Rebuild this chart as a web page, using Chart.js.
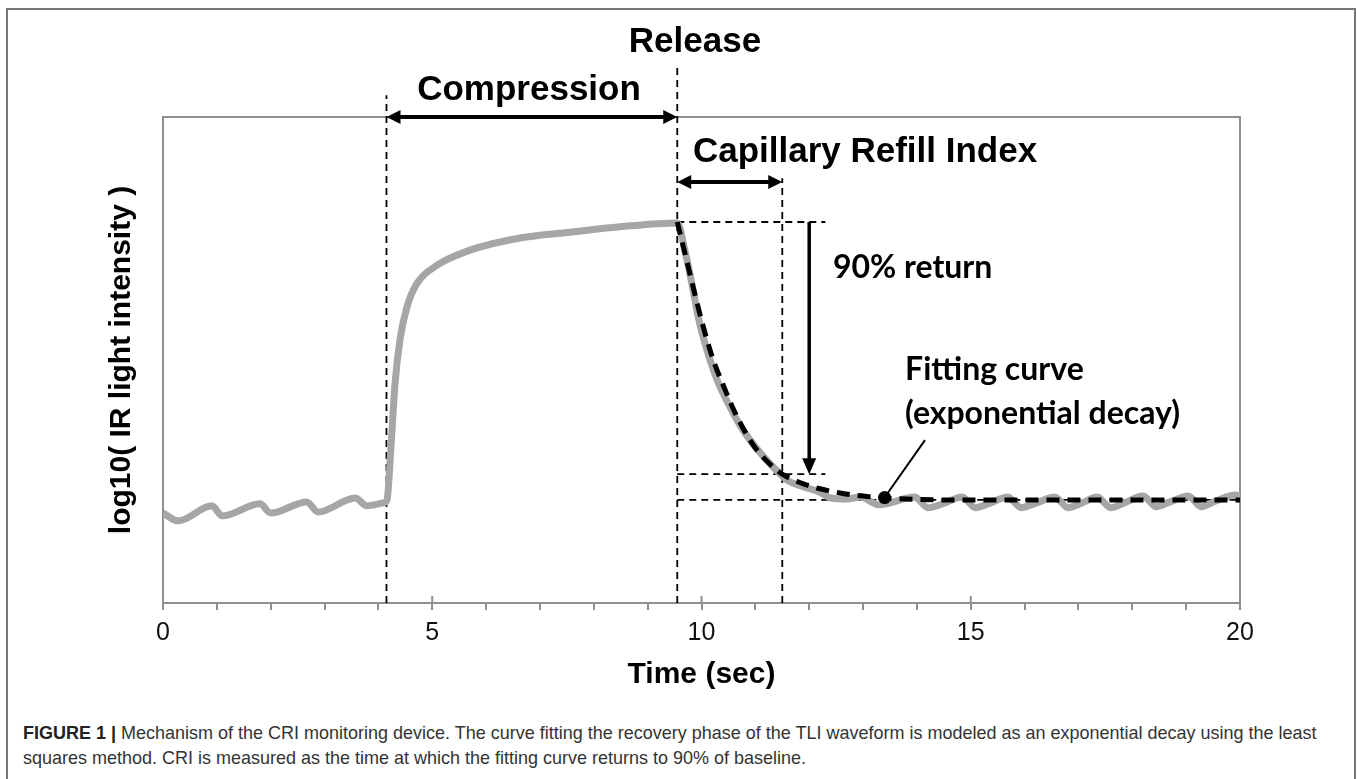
<!DOCTYPE html>
<html>
<head>
<meta charset="utf-8">
<script src="https://cdn.jsdelivr.net/npm/chart.js@4.4.1/dist/chart.umd.min.js"></script>
<style>
  html, body { margin: 0; padding: 0; background: #fff; }
  body { width: 1357px; height: 779px; position: relative; overflow: hidden; font-family: "Liberation Sans", Arial, sans-serif; }
  #frame { position: absolute; left: 6px; top: 8px; width: 1346px; height: 820px; border: 2px solid #777; border-bottom: none; }
  #criChart { position: absolute; left: 0; top: 0; }
  #caption { position: absolute; left: 23px; top: 720px; font-size: 19px; line-height: 25px; color: #333; white-space: nowrap; transform-origin: 0 0; }
  #caption b { color: #222; }
</style>
</head>
<body>
<div id="frame"></div>
<canvas id="criChart" width="1357" height="700"></canvas>
<div id="caption"><span id="capLine1"><b>FIGURE 1 |</b> Mechanism of the CRI monitoring device. The curve fitting the recovery phase of the TLI waveform is modeled as an exponential decay using the least</span><br>squares method. CRI is measured as the time at which the fitting curve returns to 90% of baseline.</div>
<script>
// TLI waveform (grey trace), time in sec
const tliTime = [0, 0.28, 0.91, 1.1, 1.8, 2.0, 2.67, 2.88, 3.57, 3.79,
  4.09, 4.16, 4.23, 4.31, 4.40, 4.53, 4.72, 5.09, 5.70, 6.63,
  7.56, 8.49, 9.55, 9.69, 9.82, 9.94, 10.1, 10.29, 10.53, 10.77,
  11.09, 11.33, 11.59, 11.9, 12.2, 12.4, 12.7, 12.95, 13.3,
  13.96, 14.06, 14.2, 14.5,
  14.84, 14.94, 15.08, 15.35,
  15.69, 15.79, 15.93, 16.2,
  16.56, 16.66, 16.8, 17.05,
  17.35, 17.45, 17.59, 17.85,
  18.2, 18.3, 18.44, 18.7,
  19.04, 19.14, 19.28, 19.55,
  19.92, 20.0];
const tliValue = [1.85, 1.69, 2.00, 1.79, 2.04, 1.85, 2.08, 1.87, 2.16, 2.00,
  2.06, 2.12, 3.15, 4.53, 5.41, 6.09, 6.58, 6.95, 7.26, 7.51,
  7.63, 7.74, 7.82, 7.26, 6.58, 5.88, 5.21, 4.59, 4.03, 3.56,
  3.09, 2.80, 2.53, 2.39, 2.28, 2.16, 2.14, 2.18, 2.02,
  2.18, 2.10, 1.96, 2.05,
  2.18, 2.10, 1.96, 2.05,
  2.18, 2.10, 1.96, 2.05,
  2.18, 2.10, 1.96, 2.05,
  2.18, 2.10, 1.96, 2.06,
  2.20, 2.12, 1.98, 2.08,
  2.20, 2.12, 1.98, 2.10,
  2.22, 2.18];

// exponential decay fit (black dashed)
const fitTime = [9.55, 9.7, 9.85, 10.0, 10.2, 10.4, 10.6, 10.8, 11.0, 11.25, 11.5, 11.8, 12.2, 12.6, 13.0, 13.4, 14.0, 15.0, 20.0];
const fitValue = [7.84, 7.16, 6.48, 5.82, 5.06, 4.49, 3.97, 3.54, 3.19, 2.88, 2.65, 2.49, 2.35, 2.26, 2.20, 2.16, 2.13, 2.12, 2.12];

// event markers: compression start, release, CRI end
const markTime = [4.15, 9.55, 11.5];
const markTop = [10.45, 11.07, 8.74];
// levels: release level, 90% return, baseline
const levelValue = [7.84, 2.65, 2.12];
const levelEnd = [12.3, 12.3, 20];

const compressionSpan = [4.15, 9.55];
const compressionAt = 10;
const criSpan = [9.55, 11.5];
const criAt = 8.66;
const returnTime = 12.0;
const returnSpan = [7.84, 2.65];

const fitPoint = [13.4, 2.17];
const leaderStart = [14.15, 3.35];

const xTicks = [0, 5, 10, 15, 20];

const pts = (xs, ys) => xs.map((x, i) => ({x: x, y: ys[i]}));

const thinDash = {
  borderColor: '#000', borderWidth: 1.8, borderDash: [7, 5],
  pointRadius: 0, clip: false, order: 3, tension: 0
};

let datasets = [
  {
    label: 'fit', data: pts(fitTime, fitValue),
    borderColor: '#000', borderWidth: 5, borderDash: [13, 8],
    pointRadius: 0, cubicInterpolationMode: 'monotone', order: 1
  },
  {
    label: 'TLI', data: pts(tliTime, tliValue),
    borderColor: '#a6a6a6', borderWidth: 7,
    pointRadius: 0, cubicInterpolationMode: 'monotone', order: 2
  },
  {
    label: 'leader', data: [{x: leaderStart[0], y: leaderStart[1]}, {x: fitPoint[0], y: fitPoint[1]}],
    borderColor: '#000', borderWidth: 2, pointRadius: 0, order: 0
  },
  {
    label: 'point', data: [{x: fitPoint[0], y: fitPoint[1]}],
    showLine: false, pointRadius: 6.5, pointBackgroundColor: '#000', pointBorderWidth: 0, order: 0
  }
];
markTime.forEach((t, i) => {
  datasets.push(Object.assign({label: 'mark' + i, data: [{x: t, y: 0}, {x: t, y: markTop[i]}]}, thinDash));
});
levelValue.forEach((v, i) => {
  datasets.push(Object.assign({label: 'level' + i, data: [{x: markTime[1], y: v}, {x: levelEnd[i], y: v}]}, thinDash));
});

function arrowHead(ctx, x, y, dx, dy, len, half) {
  ctx.beginPath();
  ctx.moveTo(x, y);
  ctx.lineTo(x - dx * len - dy * half, y - dy * len + dx * half);
  ctx.lineTo(x - dx * len + dy * half, y - dy * len - dx * half);
  ctx.closePath();
  ctx.fill();
}

const annotate = {
  id: 'annotate',
  beforeDatasetsDraw(chart) {
    const {ctx, chartArea: a, scales: {x}} = chart;
    ctx.save();
    ctx.strokeStyle = '#8f8f8f';
    ctx.lineWidth = 2;
    ctx.strokeRect(a.left, a.top, a.right - a.left, a.bottom - a.top);
    ctx.beginPath();
    xTicks.forEach(t => {
      const px = x.getPixelForValue(t);
      ctx.moveTo(px, a.bottom - 7);
      ctx.lineTo(px, a.bottom);
    });
    ctx.stroke();
    ctx.restore();
  },
  afterDatasetsDraw(chart) {
    const {ctx, scales: {x, y}} = chart;
    ctx.save();
    ctx.fillStyle = '#000';
    ctx.strokeStyle = '#000';

    // horizontal double arrows
    [[compressionSpan, compressionAt], [criSpan, criAt]].forEach(([span, at]) => {
      const x1 = x.getPixelForValue(span[0]);
      const x2 = x.getPixelForValue(span[1]);
      const py = y.getPixelForValue(at);
      ctx.lineWidth = 4;
      ctx.beginPath();
      ctx.moveTo(x1 + 10, py);
      ctx.lineTo(x2 - 10, py);
      ctx.stroke();
      arrowHead(ctx, x1, py, -1, 0, 14, 7);
      arrowHead(ctx, x2, py, 1, 0, 14, 7);
    });

    // 90% return arrow
    const rx = x.getPixelForValue(returnTime);
    const ry1 = y.getPixelForValue(returnSpan[0]);
    const ry2 = y.getPixelForValue(returnSpan[1]);
    ctx.lineWidth = 3.5;
    ctx.beginPath();
    ctx.moveTo(rx, ry1);
    ctx.lineTo(rx, ry2 - 12);
    ctx.stroke();
    arrowHead(ctx, rx, ry2, 0, 1, 16, 7);

    // labels
    ctx.textBaseline = 'alphabetic';
    ctx.textAlign = 'left';
    ctx.font = 'bold 35px "Liberation Sans", Arial, sans-serif';
    ctx.fillText('Release', x.getPixelForValue(8.65), y.getPixelForValue(11.34));
    ctx.fillText('Compression', x.getPixelForValue(4.72), y.getPixelForValue(10.35));
    ctx.fillText('Capillary Refill Index', x.getPixelForValue(9.84), y.getPixelForValue(9.07));
    ctx.font = 'bold 32px Lato, "Open Sans", sans-serif';
    ctx.fillText('90% return', x.getPixelForValue(12.44), y.getPixelForValue(6.69));
    ctx.fillText('Fitting curve', x.getPixelForValue(13.78), y.getPixelForValue(4.59));
    ctx.fillText('(exponential decay)', x.getPixelForValue(13.78), y.getPixelForValue(3.68));
    ctx.restore();
  }
};

const canvas = document.getElementById('criChart');
const context = canvas.getContext('2d');

const chart = new Chart(context, {
  type: 'line',
  data: { datasets: datasets },
  plugins: [annotate],
  options: {
    responsive: false,
    animation: false,
    devicePixelRatio: 1,
    layout: { padding: { left: 104, top: 117, right: 117, bottom: 7 } },
    plugins: { legend: { display: false }, tooltip: { enabled: false } },
    scales: {
      x: {
        type: 'linear', min: 0, max: 20,
        afterFit: (s) => { s.height = 90; },
        border: { display: false },
        grid: { drawOnChartArea: false, drawTicks: true, tickLength: 7, color: '#8f8f8f', lineWidth: 2 },
        ticks: {
          stepSize: 1, autoSkip: false, maxRotation: 0, padding: 8,
          color: '#111',
          font: { family: '"Liberation Sans", Arial, sans-serif', size: 25 },
          callback: (v) => (v % 5 === 0 ? v : '')
        },
        title: {
          display: true, text: 'Time (sec)', color: '#000', padding: 0,
          font: { family: '"Liberation Sans", Arial, sans-serif', size: 30, weight: 'bold' }
        }
      },
      y: {
        min: 0, max: 10,
        afterFit: (s) => { s.width = 59; },
        border: { display: false },
        grid: { display: false },
        ticks: { display: false },
        title: {
          display: true, text: 'log10( IR light intensity )', color: '#000', padding: 0,
          font: { family: '"Liberation Sans", Arial, sans-serif', size: 30, weight: 'bold' }
        }
      }
    }
  }
});

// squeeze the caption so its first line spans the frame like the figure's
const capLine = document.getElementById('capLine1');
const k = 1294 / capLine.getBoundingClientRect().width;
document.getElementById('caption').style.transform = 'scaleX(' + k.toFixed(3) + ')';
</script>
</body>
</html>
